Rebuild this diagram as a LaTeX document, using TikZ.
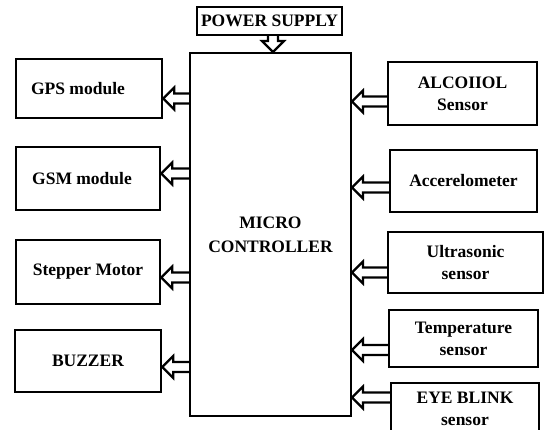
\documentclass[tikz,border=0pt]{standalone}
\usepackage{fontspec}
\setmainfont{Liberation Serif}
\usetikzlibrary{calc}

\tikzset{
    block/.style={draw, line width=2.4pt, align=center, inner sep=0pt,
        font=\fontsize{17.5}{22}\selectfont\bfseries},
    arrowline/.style={draw, line width=2.2pt, line join=miter}
}

% hollow block arrow from #1 to the tip #2
\newcommand{\hollowarrow}[2]{%
    \path ($(#2)!11pt!(#1)$) coordinate (hb);
    \draw[arrowline] ($(#1)!5pt!90:(#2)$) -- ($(hb)!5pt!90:(#2)$)
        -- ($(hb)!11pt!90:(#2)$) -- (#2) -- ($(hb)!11pt!-90:(#2)$)
        -- ($(hb)!5pt!-90:(#2)$) -- ($(#1)!5pt!-90:(#2)$);
}

\begin{document}
\begin{tikzpicture}[x=1pt, y=-1pt]
    \useasboundingbox (0,0) rectangle (544,430);

    % Controller and supply
    \node[block, line width=2pt, minimum width=161pt, minimum height=363pt,
        font=\fontsize{17.5}{24}\selectfont\bfseries] (mc) at (270.5,234.5) {MICRO\\CONTROLLER};
    \node[block, minimum width=145pt, minimum height=28pt] (power) at (269.5,21) {POWER SUPPLY};

    % Outputs
    \node[block, minimum width=146pt, minimum height=59pt] (gps) at (89,88.5) {\hspace*{-22pt}GPS module};
    \node[block, minimum width=144pt, minimum height=63pt] (gsm) at (88,178.5) {\hspace*{-12pt}GSM module};
    \node[block, minimum width=144pt, minimum height=64pt] (stepper) at (88,272) {Stepper Motor};
    \node[block, minimum width=146pt, minimum height=62pt] (buzzer) at (88,361) {BUZZER};

    % Inputs
    \node[block, minimum width=149pt, minimum height=63pt] (alcohol) at (462.5,93.5) {ALCOIIOL\\Sensor};
    \node[block, minimum width=147pt, minimum height=62pt] (accel) at (463.5,181) {Accerelometer};
    \node[block, minimum width=155pt, minimum height=61pt] (ultra) at (465.5,262.5) {Ultrasonic\\sensor};
    \node[block, minimum width=149pt, minimum height=57pt] (temp) at (463.5,338.5) {Temperature\\sensor};
    \node[block, minimum width=148pt, minimum height=52pt] (eye) at (465,409) {EYE BLINK\\sensor};

    % Arrows
    \coordinate (powertip) at (mc.north -| 273,0);
    \hollowarrow{power.south -| powertip}{powertip}
    \foreach \b/\d in {gps/10, gsm/-5, stepper/5.5, buzzer/6} {
        \coordinate (\b-tip) at ($(\b.east)+(0,\d)$);
        \hollowarrow{mc.west |- \b-tip}{\b-tip}
    }
    \foreach \b/\d in {alcohol/8, accel/6.5, ultra/10, temp/11.5, eye/-11.5} {
        \coordinate (\b-tip) at ($(mc.east |- \b.west)+(0,\d)$);
        \hollowarrow{\b.west |- \b-tip}{\b-tip}
    }
\end{tikzpicture}
\end{document}
